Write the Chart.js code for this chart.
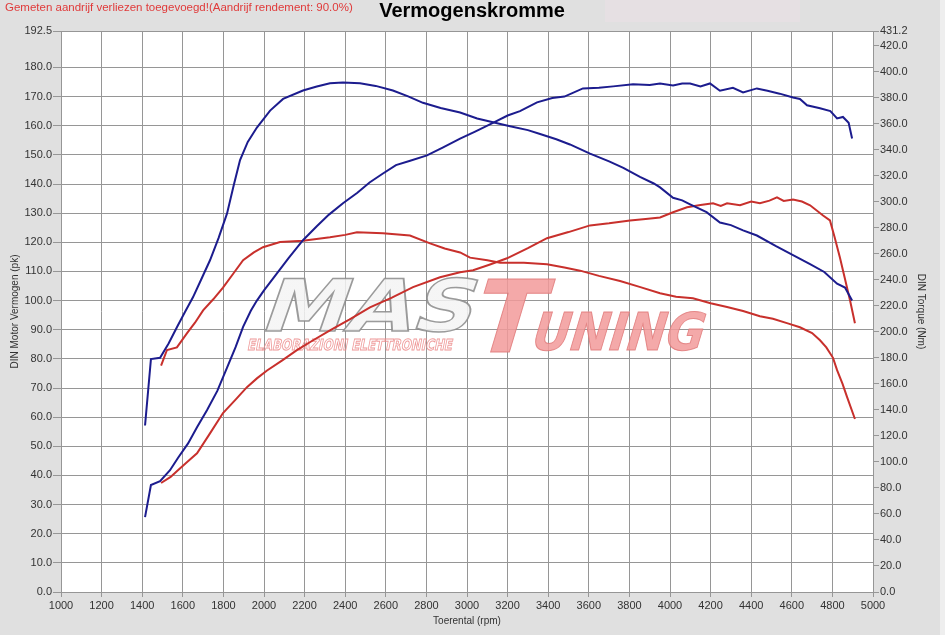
<!DOCTYPE html>
<html>
<head>
<meta charset="utf-8">
<script src="https://cdn.jsdelivr.net/npm/chart.js@4.4.1/dist/chart.umd.min.js"></script>
<style>
  html, body { margin: 0; padding: 0; background: #e0e0e0; }
  canvas { display: block; }
</style>
</head>
<body>
<canvas id="c" width="945" height="635"></canvas>
<script>
// ---------- DATA ----------
const titleText = 'Vermogenskromme';
const noteText = 'Gemeten aandrijf verliezen toegevoegd!(Aandrijf rendement: 90.0%)';
const xTitle = 'Toerental (rpm)';
const yTitle = 'DIN Motor Vermogen (pk)';
const y1Title = 'DIN Torque (Nm)';
const powerTicks = [0,10,20,30,40,50,60,70,80,90,100,110,120,130,140,150,160,170,180,192.5];
const torqueTicks = [0,20,40,60,80,100,120,140,160,180,200,220,240,260,280,300,320,340,360,380,400,420,431.2];

// Blue power (pk)
const bluePowerRpm = [1414,1443,1488,1537,1576,1626,1670,1719,1770,1818,1860,1897,1935,1965,2000,2060,2120,2192,2260,2320,2389,2460,2520,2586,2650,2720,2803,2880,2966,3040,3128,3200,3261,3345,3420,3480,3571,3650,3720,3818,3900,3951,4015,4060,4099,4150,4197,4246,4310,4360,4428,4480,4540,4606,4640,4675,4739,4790,4823,4852,4880,4897];
const bluePowerPk  = [25.7,36.7,38,41.8,46,51,56.5,62.4,69,77,84,91,96.5,100,103.5,109,114.5,120.7,125.5,129.5,133.4,137,140.5,143.6,146.5,148,149.8,152.5,155.6,158,161,163.5,165,168,169.5,170,172.8,173,173.5,174.2,174,174.5,173.8,174.5,174.5,173.5,174.5,172,173,171.4,172.8,172,171,169.7,169.2,167,166,165,162.5,163,161,155.6];

// Blue torque (Nm)
const blueTorqueRpm = [1414,1443,1488,1530,1571,1610,1650,1690,1734,1776,1818,1850,1882,1920,1965,2030,2094,2192,2260,2325,2389,2473,2550,2635,2710,2783,2870,2966,3050,3128,3212,3300,3360,3440,3507,3606,3700,3770,3852,3920,3951,4015,4060,4099,4180,4246,4300,4360,4428,4520,4606,4690,4760,4823,4862,4897];
const blueTorqueNm  = [128,179,180,191,203.5,215,226.5,240,255,272,291,312,332,346,357,370,379,385.5,388.5,391,391.6,391,389,385.5,381,376,372,368.6,364,361,358,355,352,348,344,337,331,326,319,314,311,303,301,298,292,284,282,278,274,266,259,252,246,237,234,224];

// Red torque (Nm)
const redTorqueRpm = [1493,1522,1571,1621,1660,1700,1750,1798,1850,1897,1950,1995,2079,2192,2325,2400,2458,2586,2719,2818,2890,2966,3015,3100,3163,3280,3394,3480,3557,3650,3754,3850,3951,4030,4113,4200,4281,4360,4443,4507,4580,4640,4700,4739,4770,4803,4823,4850,4872,4911];
const redTorqueNm  = [174,186,188,199,207,216.5,225,234,245,255,261,265,269,270,272.6,274.5,276.5,275.7,274,268,264,261,257,255,253,253,252,249.5,247,243,239,234.5,229.6,227,225.8,222,219,216,212,210,206.5,203.5,199,193.5,188,180,170.5,160,150,133];

// Red power (pk)
const redPowerRpm = [1493,1540,1576,1620,1670,1730,1798,1860,1916,1965,2015,2090,2162,2240,2325,2420,2522,2630,2734,2867,2966,3030,3110,3197,3300,3394,3500,3606,3700,3803,3880,3951,4015,4084,4150,4212,4250,4281,4345,4400,4443,4490,4527,4560,4606,4650,4690,4754,4788,4810,4837,4860,4887,4911];
const redPowerPk  = [37.4,39.5,41.8,44.5,47.6,54,61.4,66,70.3,73.3,76,79.5,83,86.3,89.8,93.5,97.7,101,104.6,108,109.7,110.4,112.3,114.5,118,121.4,123.5,125.8,126.5,127.5,128,128.5,130.3,132,132.8,133.4,132.5,133.4,132.7,134,133.4,134.3,135.4,134.2,134.7,134,132.7,129.2,127.5,122,114.8,108,100,92.2];

// ---------- STYLE ----------
const BLUE = '#1c1c8e';
const RED = '#c8302c';
const GRID = '#969696';
const LABEL = '#333333';
const FONT = '"Liberation Sans", Arial, sans-serif';

const pts = (xs, ys) => xs.map((x, i) => ({ x: x, y: ys[i] }));

const bgPlugin = {
  id: 'bg',
  beforeDraw(chart) {
    const { ctx, chartArea: a } = chart;
    ctx.save();
    ctx.fillStyle = '#e0e0e0';
    ctx.fillRect(0, 0, chart.width, chart.height);
    ctx.fillStyle = '#eeeeee';
    ctx.fillRect(940, 0, 5, chart.height);
    ctx.fillStyle = '#e6e0e3';
    ctx.fillRect(605, 0, 195, 22);
    ctx.fillStyle = '#ffffff';
    ctx.fillRect(a.left, a.top, a.right - a.left, a.bottom - a.top);
    // header texts
    ctx.fillStyle = '#000';
    ctx.font = 'bold 20px ' + FONT;
    ctx.textAlign = 'center';
    ctx.textBaseline = 'alphabetic';
    ctx.fillText(titleText, 472, 17);
    ctx.fillStyle = '#e03a3a';
    ctx.font = '11.5px ' + FONT;
    ctx.textAlign = 'left';
    ctx.fillText(noteText, 5, 11);
    ctx.restore();
  }
};

function skewText(ctx, text, x, base, font, targetW, skew, fill, stroke, lw) {
  ctx.save();
  ctx.font = font;
  const w = ctx.measureText(text).width;
  const sx = targetW / w;
  ctx.translate(x, base);
  ctx.transform(sx, 0, -skew, 1, 0, 0);
  ctx.textAlign = 'left';
  ctx.textBaseline = 'alphabetic';
  if (fill) { ctx.fillStyle = fill; ctx.fillText(text, 0, 0); }
  if (stroke) { ctx.strokeStyle = stroke; ctx.lineWidth = lw; ctx.strokeText(text, 0, 0); }
  ctx.restore();
}

const logoPlugin = {
  id: 'logo',
  beforeDatasetsDraw(chart) {
    const ctx = chart.ctx;
    ctx.save();
    ctx.globalAlpha = 0.85;
    const g = ctx.createLinearGradient(0, 280, 0, 332);
    g.addColorStop(0, '#f4f4f4');
    g.addColorStop(0.5, '#d0d0d0');
    g.addColorStop(1, '#eeeeee');
    skewText(ctx, 'MAS', 258, 331, 'bold 72px "DejaVu Sans", sans-serif', 212, 0.35, g, '#8a8a8a', 1.5);
    skewText(ctx, 'T', 466, 352, 'bold 100px "DejaVu Sans", sans-serif', 68, 0.3, '#f29a9a', '#e07a7a', 1);
    skewText(ctx, 'UNING', 528, 350, 'bold 52px "DejaVu Sans", sans-serif', 172, 0.3, '#f29a9a', '#e07a7a', 1);
    skewText(ctx, 'ELABORAZIONI ELETTRONICHE', 247, 350, 'bold 15px "DejaVu Sans", sans-serif', 205, 0.2, null, '#ec8a8a', 1);
    ctx.restore();
  }
};

new Chart(document.getElementById('c'), {
  type: 'line',
  data: {
    datasets: [
      { label: 'Vermogen 1', data: pts(bluePowerRpm, bluePowerPk), yAxisID: 'y', borderColor: BLUE, borderWidth: 2 },
      { label: 'Koppel 1', data: pts(blueTorqueRpm, blueTorqueNm), yAxisID: 'y1', borderColor: BLUE, borderWidth: 2 },
      { label: 'Vermogen 2', data: pts(redPowerRpm, redPowerPk), yAxisID: 'y', borderColor: RED, borderWidth: 2 },
      { label: 'Koppel 2', data: pts(redTorqueRpm, redTorqueNm), yAxisID: 'y1', borderColor: RED, borderWidth: 2 }
    ]
  },
  options: {
    responsive: false,
    animation: false,
    events: [],
    layout: { padding: { top: 31, left: 0, right: 0, bottom: 0 } },
    elements: { point: { radius: 0 }, line: { tension: 0, fill: false } },
    plugins: { legend: { display: false }, tooltip: { enabled: false } },
    scales: {
      x: {
        type: 'linear', min: 1000, max: 5000,
        ticks: { stepSize: 200, autoSkip: false, maxRotation: 0, color: LABEL, padding: 2,
                 font: { family: FONT, size: 11 }, callback: v => String(v) },
        grid: { color: GRID, tickColor: GRID, tickLength: 5, lineWidth: 1 },
        border: { color: GRID },
        title: { display: true, text: xTitle, color: LABEL, font: { family: FONT, size: 10 }, padding: { top: 0, bottom: 8 } },
        afterFit(s) { s.height = 43; }
      },
      y: {
        position: 'left', min: 0, max: 192.5,
        afterBuildTicks(s) { s.ticks = powerTicks.map(v => ({ value: v })); },
        ticks: { autoSkip: false, color: LABEL, padding: 1, font: { family: FONT, size: 11 }, callback: v => Number(v).toFixed(1) },
        grid: { color: GRID, tickColor: GRID, tickLength: 8, lineWidth: 1 },
        border: { color: GRID },
        title: { display: true, text: yTitle, color: LABEL, font: { family: FONT, size: 10 }, padding: { top: 9, bottom: 0 } },
        afterFit(s) { s.width = 61; }
      },
      y1: {
        position: 'right', min: 0, max: 431.2,
        afterBuildTicks(s) { s.ticks = torqueTicks.map(v => ({ value: v })); },
        ticks: { autoSkip: false, color: LABEL, padding: 1, font: { family: FONT, size: 11 }, callback: v => Number(v).toFixed(1) },
        grid: { drawOnChartArea: false, color: GRID, tickColor: GRID, tickLength: 6 },
        border: { color: GRID },
        title: { display: true, text: y1Title, color: LABEL, font: { family: FONT, size: 10 }, padding: { top: 18, bottom: 0 } },
        afterFit(s) { s.width = 72; }
      }
    }
  },
  plugins: [bgPlugin, logoPlugin]
});
</script>
</body>
</html>
